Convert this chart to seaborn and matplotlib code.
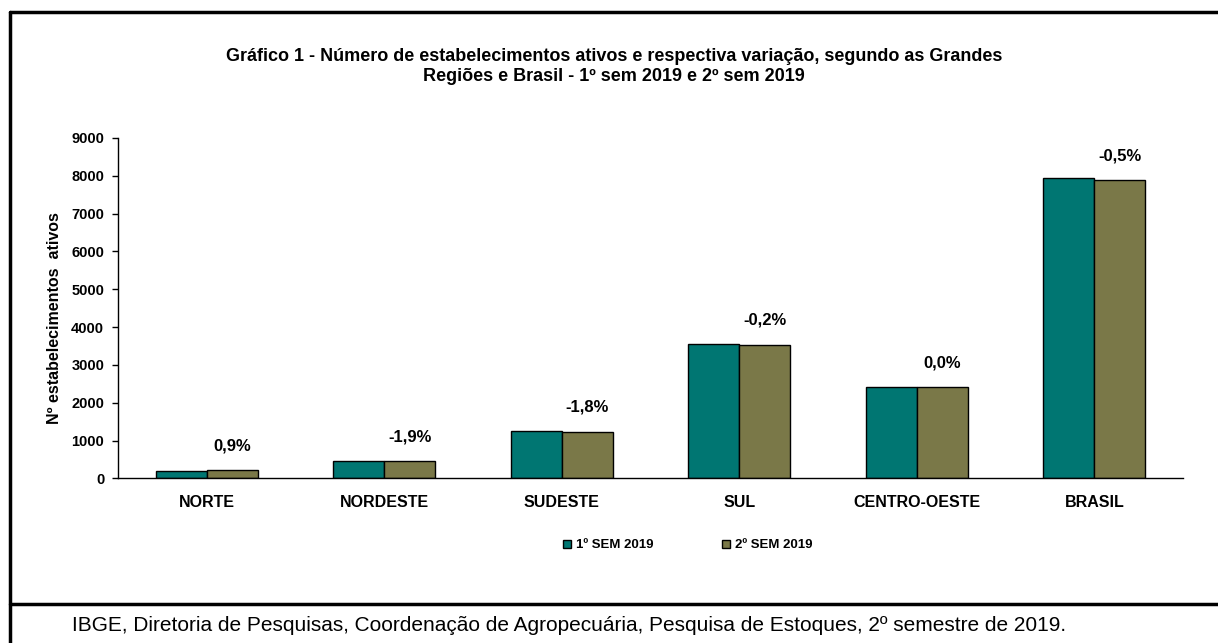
import pandas as pd
import seaborn as sns
import matplotlib.pyplot as plt
from matplotlib.lines import Line2D

# dados
regioes = ["NORTE", "NORDESTE", "SUDESTE", "SUL", "CENTRO-OESTE", "BRASIL"]
sem1 = [205, 462, 1262, 3545, 2415, 7935]
sem2 = [228, 455, 1235, 3538, 2415, 7895]
variacao = ["0,9%", "-1,9%", "-1,8%", "-0,2%", "0,0%", "-0,5%"]
series = ["1º SEM 2019", "2º SEM 2019"]
cores = ["#007672", "#7A7848"]

df = pd.DataFrame({
    "regiao": regioes * 2,
    "valor": sem1 + sem2,
    "serie": [series[0]] * len(regioes) + [series[1]] * len(regioes),
})

sns.set_style("white")
plt.rcParams["font.family"] = ["Liberation Sans", "DejaVu Sans"]
plt.rcParams["text.color"] = "black"
plt.rcParams["axes.labelcolor"] = "black"
plt.rcParams["xtick.color"] = "black"
plt.rcParams["ytick.color"] = "black"

fig = plt.figure(figsize=(12.18, 6.43), dpi=100)
ax = fig.add_axes([0.0969, 0.2561, 0.8744, 0.5293])

sns.barplot(data=df, x="regiao", y="valor", hue="serie", palette=cores,
            width=0.575, gap=0, edgecolor="black", linewidth=1,
            saturation=1, legend=False, ax=ax)

ax.set_ylim(0, 9000)
ax.set_xlim(-0.5, 5.5)
ax.set_yticks(range(0, 9001, 1000))
ax.set_yticklabels([str(v) for v in range(0, 9001, 1000)], fontsize=10.5, fontweight="bold")
ax.set_xticks(range(len(regioes)))
ax.set_xticklabels(regioes, fontsize=11.5, fontweight="bold")
ax.tick_params(axis="x", length=0, pad=12)
ax.set_xticks([i - 0.5 for i in range(len(regioes) + 1)], minor=True)
ax.tick_params(axis="x", which="minor", length=5, width=1, direction="out", color="black")
ax.tick_params(axis="y", length=4, width=1, direction="out", color="black", left=True, pad=6)
for s in ["top", "right"]:
    ax.spines[s].set_visible(False)
for s in ["left", "bottom"]:
    ax.spines[s].set_color("black")
    ax.spines[s].set_linewidth(1)
ax.set_xlabel("")
ax.set_ylabel("Nº estabelecimentos  ativos", fontsize=11.5, fontweight="bold")
ax.yaxis.set_label_coords(-0.053, 0.47)

# rotulos de variacao sobre a barra do 2º semestre
barras2 = ax.containers[1]
for b, txt in zip(barras2, variacao):
    ax.annotate(txt, (b.get_x() + b.get_width() / 2, b.get_height()),
                xytext=(0, 12), textcoords="offset points",
                ha="center", va="bottom", fontsize=12, fontweight="bold")

handles = [Line2D([], [], marker="s", linestyle="none", markersize=6,
                  markerfacecolor=c, markeredgecolor="black", markeredgewidth=1)
           for c in cores]
leg = fig.legend(handles, series, loc="center", bbox_to_anchor=(0.561, 0.152),
                 ncol=2, frameon=False, handletextpad=-0.3, columnspacing=4.5,
                 prop={"size": 9.5, "weight": "bold"})

fig.text(0.504, 0.897,
         "Gráfico 1 - Número de estabelecimentos ativos e respectiva variação, segundo as Grandes\n"
         "Regiões e Brasil - 1º sem 2019 e 2º sem 2019",
         ha="center", va="center", fontsize=13, fontweight="bold", linespacing=1.25)

fig.text(0.059, 0.013,
         "IBGE, Diretoria de Pesquisas, Coordenação de Agropecuária, Pesquisa de Estoques, 2º semestre de 2019.",
         ha="left", va="bottom", fontsize=15)

# moldura
fig.add_artist(Line2D([0.0085, 1.0], [0.981, 0.981], color="black", linewidth=2.5))
fig.add_artist(Line2D([0.0085, 0.0085], [0.0, 0.981], color="black", linewidth=2.5))
fig.add_artist(Line2D([0.0085, 1.0], [0.061, 0.061], color="black", linewidth=2.5))

fig.savefig("out.png", dpi=100)
